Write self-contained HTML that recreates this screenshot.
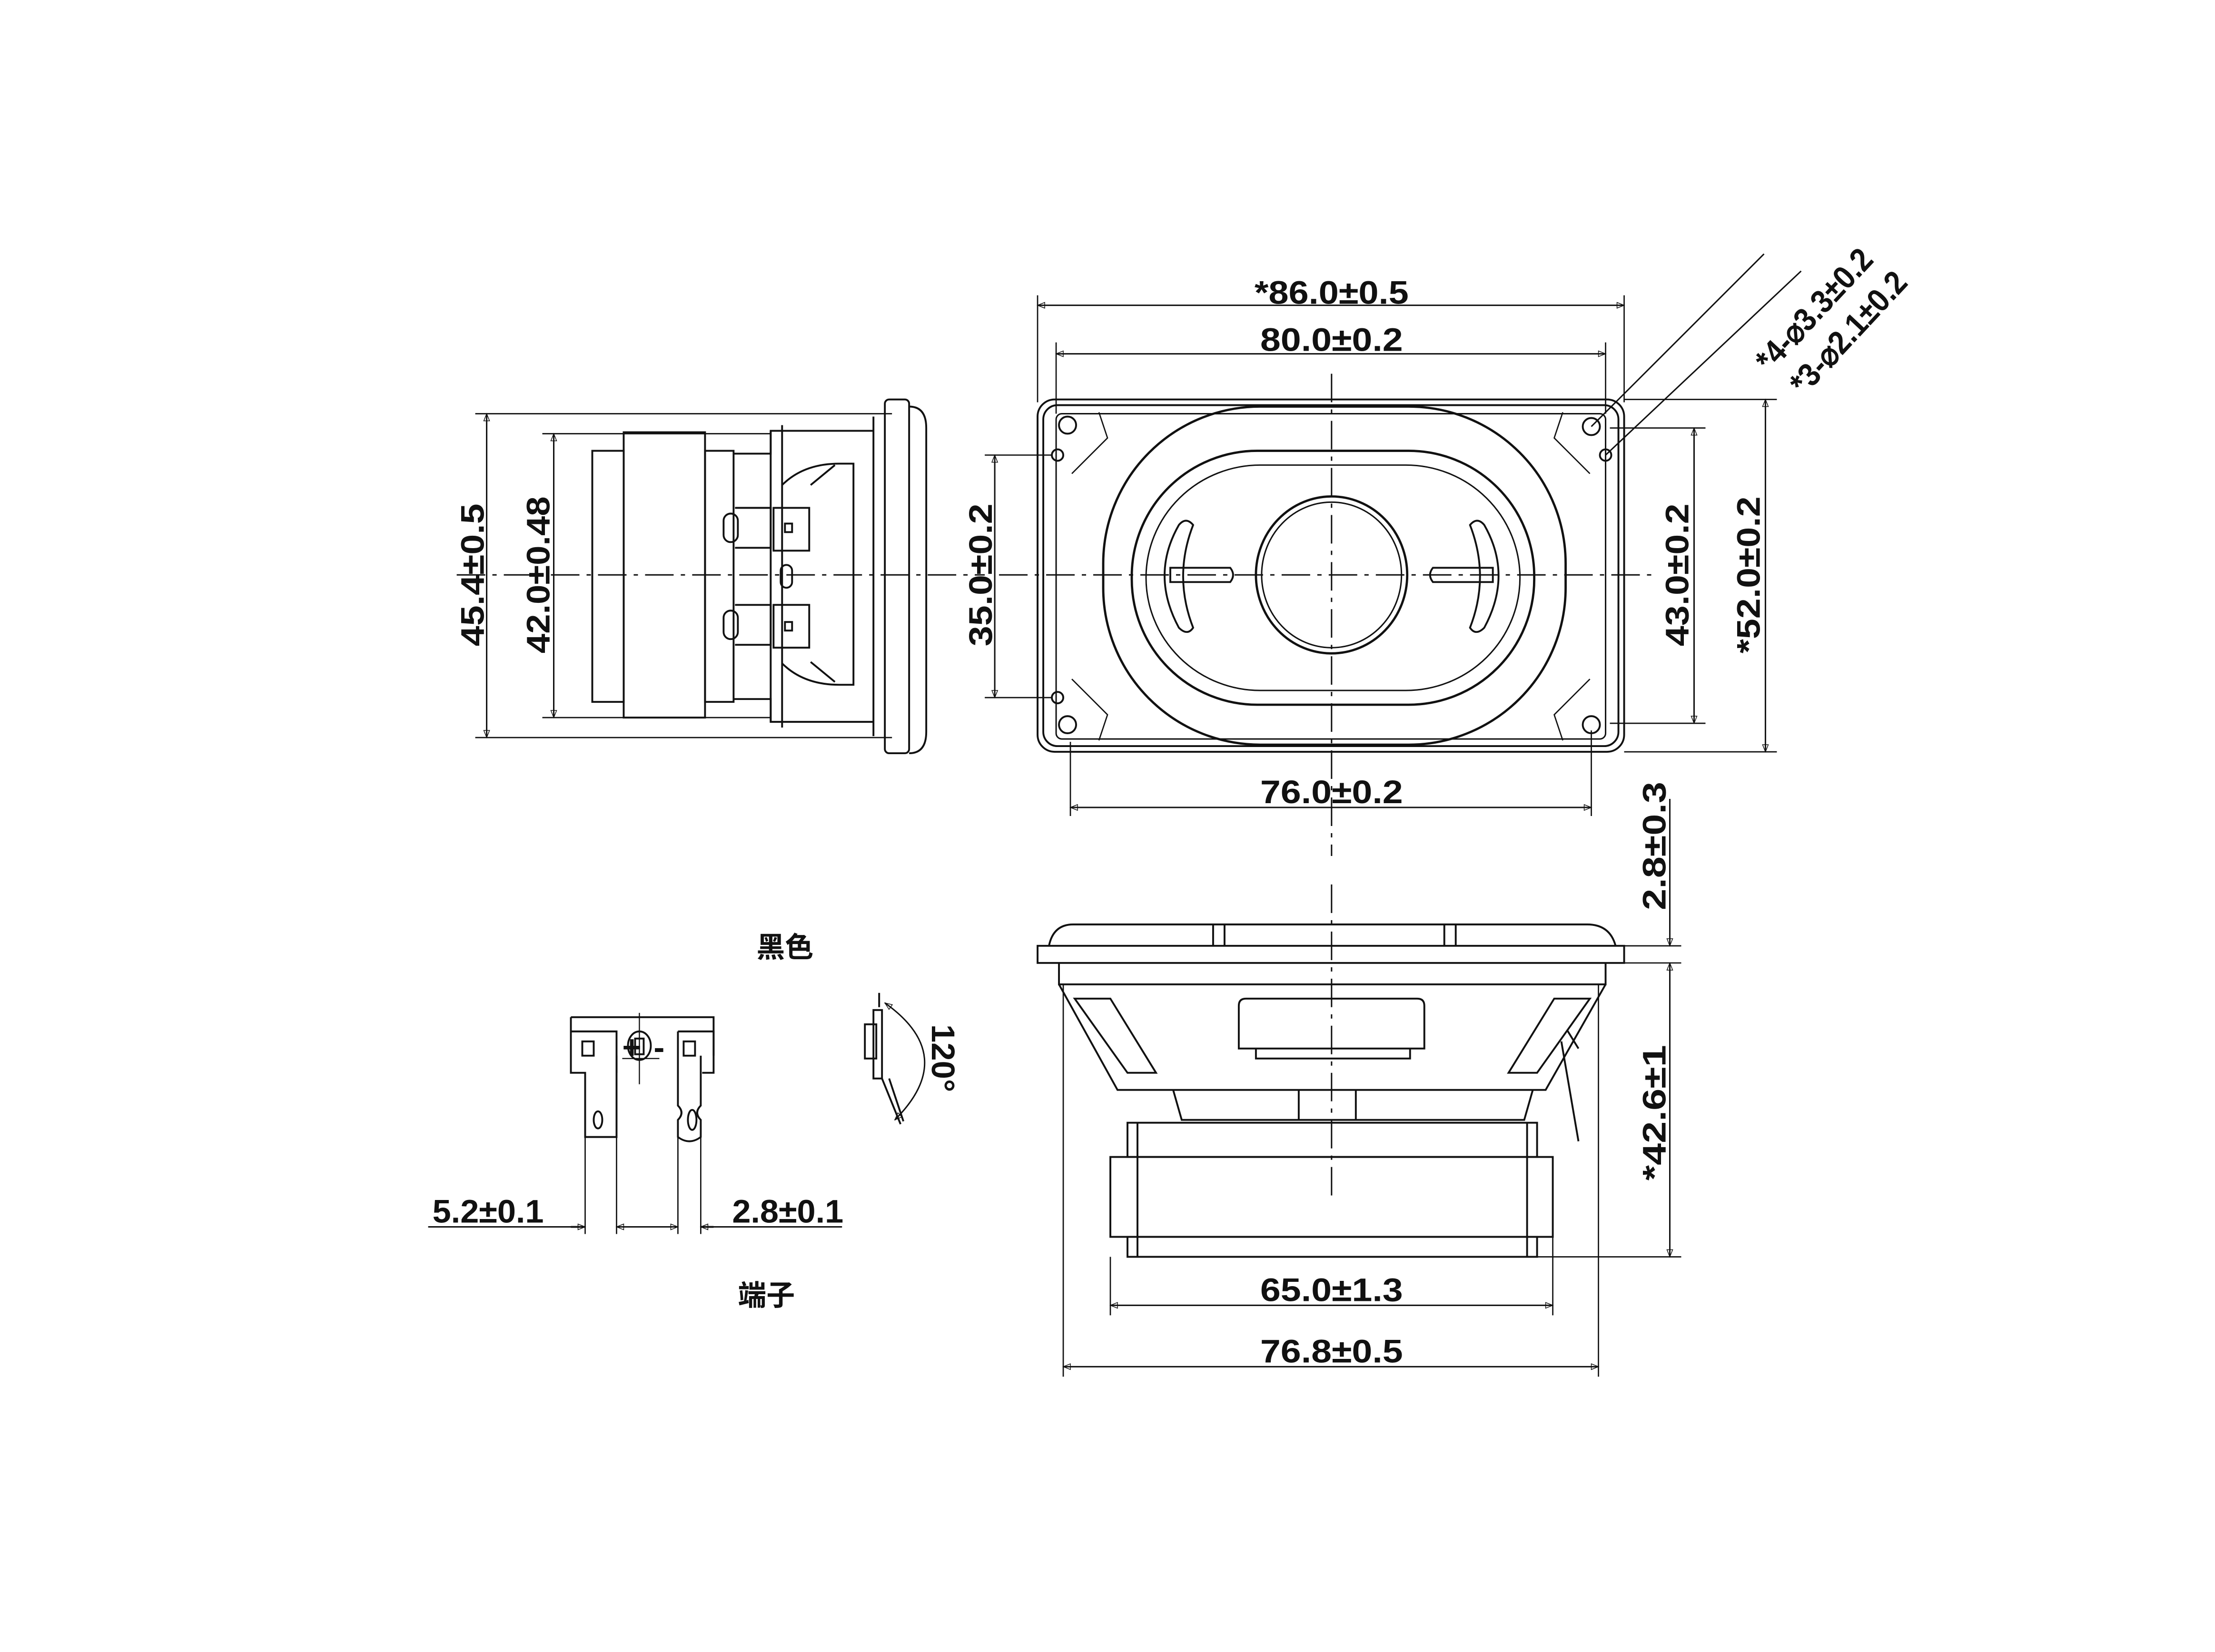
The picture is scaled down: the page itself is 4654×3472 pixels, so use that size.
<!DOCTYPE html>
<html><head><meta charset="utf-8"><style>
html,body{margin:0;padding:0;background:#fff;}
svg{display:block;}
text{font-family:"Liberation Sans Narrow","Liberation Sans","Noto Sans CJK SC",sans-serif;font-weight:bold;font-size:23px;fill:#111;}
.cjk{font-family:"Noto Sans CJK SC","WenQuanYi Zen Hei",sans-serif;font-size:20px;}
</style></head><body>
<svg width="4654" height="3472" viewBox="0 0 1552 1158" preserveAspectRatio="none" xmlns="http://www.w3.org/2000/svg">
<defs>
<marker id="a" viewBox="0 0 10 10" refX="10" refY="5" markerWidth="9" markerHeight="5" orient="auto-start-reverse" markerUnits="userSpaceOnUse"><path d="M0,1 L10,5 L0,9 z" fill="none" stroke="#111" stroke-width="1"/></marker>
</defs>
<rect width="1552" height="1158" fill="#fff"/>
<g fill="none" stroke="#111" stroke-width="1.3">
<rect x="727" y="280" width="411" height="247" rx="12"/>
<rect x="731" y="284" width="403" height="239" rx="10"/>
<rect x="740" y="290" width="385" height="228" rx="4" stroke-width="1"/>
<rect x="773" y="285" width="324" height="237" rx="110" stroke-width="1.6"/>
<rect x="793" y="316" width="282" height="178" rx="88" stroke-width="1.6"/>
<rect x="803" y="326" width="262" height="158" rx="80" stroke-width="1"/>
<ellipse cx="933" cy="403" rx="53" ry="55" stroke-width="1.6"/>
<ellipse cx="933" cy="403" rx="49" ry="51" stroke-width="1"/>
<path d="M826,368 q-20,35 0,72 q6,6 10,0 q-14,-36 0,-72 q-5,-6 -10,0z"/>
<path d="M820,398 h42 q4,5 0,10 h-42z"/>
<path d="M1040,368 q20,35 0,72 q-6,6 -10,0 q14,-36 0,-72 q5,-6 10,0z"/>
<path d="M1046,398 h-42 q-4,5 0,10 h42z"/>
<circle cx="748" cy="298" r="6"/><circle cx="1115" cy="299" r="6"/>
<circle cx="741" cy="319" r="4"/><circle cx="1125" cy="319" r="4"/>
<circle cx="741" cy="489" r="4"/><circle cx="748" cy="508" r="6"/><circle cx="1115" cy="508" r="6"/>
<path d="M770,289 l6,18 l-25,25 M1095,289 l-6,18 l25,25 M770,519 l6,-18 l-25,-25 M1095,519 l-6,-18 l25,-25" stroke-width="0.9"/>
<path d="M933,262 V600 M933,620 V840" stroke-dasharray="20,5,3,5" stroke-width="1"/>
<path d="M700,403 H1160" stroke-dasharray="20,5,3,5" stroke-width="1"/>
<path d="M727,207 V282 M1138,207 V282 M740,240 V290 M1125,240 V290" stroke-width="0.9"/>
<line x1="727" y1="214" x2="1138" y2="214" marker-start="url(#a)" marker-end="url(#a)" stroke-width="1"/>
<line x1="740" y1="248" x2="1125" y2="248" marker-start="url(#a)" marker-end="url(#a)" stroke-width="1"/>
<path d="M750,520 V572 M1115,512 V572" stroke-width="0.9"/>
<line x1="750" y1="566" x2="1115" y2="566" marker-start="url(#a)" marker-end="url(#a)" stroke-width="1"/>
<path d="M1128,300 H1195 M1128,507 H1195 M1138,280 H1245 M1138,527 H1245" stroke-width="0.9"/>
<line x1="1187" y1="300" x2="1187" y2="507" marker-start="url(#a)" marker-end="url(#a)" stroke-width="1"/>
<line x1="1237" y1="280" x2="1237" y2="527" marker-start="url(#a)" marker-end="url(#a)" stroke-width="1"/>
<path d="M690,319 H737 M690,489 H737" stroke-width="0.9"/>
<line x1="697" y1="319" x2="697" y2="489" marker-start="url(#a)" marker-end="url(#a)" stroke-width="1"/>
<path d="M1115,299 L1236,178 M1125,319 L1262,190" stroke-width="1"/>
<path d="M333,290 H625 M333,517 H625 M380,304 H540 M380,503 H540" stroke-width="0.9"/>
<line x1="341" y1="290" x2="341" y2="517" marker-start="url(#a)" marker-end="url(#a)" stroke-width="1"/>
<line x1="388" y1="304" x2="388" y2="503" marker-start="url(#a)" marker-end="url(#a)" stroke-width="1"/>
<rect x="415" y="316" width="22" height="176"/>
<rect x="437" y="303" width="57" height="200"/>
<rect x="494" y="316" width="20" height="176"/>
<path d="M514,318 H540 V302 H612 M514,490 H540 V506 H612"/>
<rect x="620" y="280" width="17" height="248" rx="3"/>
<path d="M637,285 q12,0 12,15 V513 q0,15 -12,15"/>
<path d="M540,302 V506 M548,298 V510 M612,292 V516"/>
<path d="M548,340 q15,-15 40,-15 H598 V480 H588 q-25,0 -40,-15"/>
<path d="M568,340 L585,326 M568,464 L585,478"/>
<rect x="507" y="360" width="10" height="20" rx="5"/>
<rect x="507" y="428" width="10" height="20" rx="5"/>
<path d="M515,356 H540 V384 H515 M515,424 H540 V452 H515"/>
<rect x="542" y="356" width="25" height="30"/><rect x="542" y="424" width="25" height="30"/>
<rect x="550" y="367" width="5" height="6"/><rect x="550" y="436" width="5" height="6"/>
<rect x="547" y="396" width="8" height="16" rx="4"/>
<path d="M320,403 H690" stroke-dasharray="20,5,3,5" stroke-width="1"/>
<path d="M727,663 H1138 V675 H727z"/>
<path d="M735,663 Q738,648 752,648 H1112 Q1128,648 1132,663"/>
<path d="M850,648 V663 M858,648 V663 M1012,648 V663 M1020,648 V663"/>
<path d="M742,675 V690 H1125 V675"/>
<path d="M742,690 L783,764 H1083 L1125,690"/>
<path d="M753,700 L790,752 H810 L778,700z M1114,700 L1077,752 H1057 L1089,700z"/>
<path d="M868,705 q0,-5 5,-5 H993 q5,0 5,5 V735 H868z M880,735 V742 H988 V735"/>
<path d="M822,764 L828,785 H1068 L1074,764"/>
<path d="M910,764 V785 M950,764 V785"/>
<path d="M1094,730 L1100,765 L1106,800 M1098,722 L1106,735"/>
<rect x="790" y="787" width="287" height="24"/>
<rect x="778" y="811" width="310" height="56"/>
<rect x="790" y="867" width="287" height="14"/>
<path d="M797,787 V881 M1070,787 V881"/>
<path d="M1138,663 H1178 M1138,675 H1178 M1077,881 H1178" stroke-width="0.9"/>
<line x1="1170" y1="560" x2="1170" y2="663" marker-end="url(#a)" stroke-width="1"/>
<line x1="1170" y1="675" x2="1170" y2="881" marker-start="url(#a)" marker-end="url(#a)" stroke-width="1"/>
<path d="M778,881 V922 M1088,867 V922 M745,690 V965 M1120,690 V965" stroke-width="0.9"/>
<line x1="778" y1="915" x2="1088" y2="915" marker-start="url(#a)" marker-end="url(#a)" stroke-width="1"/>
<line x1="745" y1="958" x2="1120" y2="958" marker-start="url(#a)" marker-end="url(#a)" stroke-width="1"/>
<path d="M400,713 H500 V740"/>
<path d="M400,713 V752 H410 V797 H432 V740"/>
<path d="M400,723 H432 V752"/>
<path d="M475,723 H500 V752 H492"/>
<path d="M475,723 V775 q5,5 0,10 V797 q8,6 16,0 V785 q-5,-5 0,-10 V740"/>
<rect x="408" y="730" width="8" height="10"/><rect x="479" y="730" width="8" height="10"/>
<ellipse cx="448" cy="733" rx="8" ry="10"/>
<rect x="445" y="728" width="6" height="11"/>
<path d="M448,710 V760" stroke-width="0.8"/>
<path d="M436,742 H462" stroke-width="0.8"/>
<ellipse cx="419" cy="785" rx="3" ry="6"/><ellipse cx="485" cy="785" rx="3" ry="7"/>
<path d="M410,797 V865 M432,797 V865 M475,797 V865 M491,797 V865" stroke-width="0.9"/>
<path d="M300,860 H410 M491,860 H590" stroke-width="1"/>
<path d="M400,860 L410,860" marker-end="url(#a)"/>
<line x1="432" y1="860" x2="475" y2="860" marker-start="url(#a)" marker-end="url(#a)" stroke-width="1"/>
<path d="M500,860 L491,860" marker-end="url(#a)"/>
<rect x="606" y="718" width="8" height="24"/>
<rect x="612" y="708" width="6" height="48"/>
<path d="M616,706 V696 M618,756 L631,788"/>
<path d="M623,756 L633,786"/>
<path d="M620,703 Q672,740 627,785" marker-start="url(#a)" marker-end="url(#a)" stroke-width="1"/>
</g>
<text x="933" y="213" text-anchor="middle" textLength="108" lengthAdjust="spacingAndGlyphs">*86.0±0.5</text>
<text x="933" y="246" text-anchor="middle" textLength="100" lengthAdjust="spacingAndGlyphs">80.0±0.2</text>
<text x="933" y="563" text-anchor="middle" textLength="100" lengthAdjust="spacingAndGlyphs">76.0±0.2</text>
<text transform="translate(1240,262) rotate(-47)" textLength="108" lengthAdjust="spacingAndGlyphs">*4-⌀3.3±0.2</text>
<text transform="translate(1264,278) rotate(-47)" textLength="108" lengthAdjust="spacingAndGlyphs">*3-⌀2.1±0.2</text>
<text transform="translate(1183,403) rotate(-90)" text-anchor="middle" textLength="100" lengthAdjust="spacingAndGlyphs">43.0±0.2</text>
<text transform="translate(1233,403) rotate(-90)" text-anchor="middle" textLength="110" lengthAdjust="spacingAndGlyphs">*52.0±0.2</text>
<text transform="translate(695,403) rotate(-90)" text-anchor="middle" textLength="100" lengthAdjust="spacingAndGlyphs">35.0±0.2</text>
<text transform="translate(339,403) rotate(-90)" text-anchor="middle" textLength="100" lengthAdjust="spacingAndGlyphs">45.4±0.5</text>
<text transform="translate(385,403) rotate(-90)" text-anchor="middle" textLength="110" lengthAdjust="spacingAndGlyphs">42.0±0.48</text>
<text transform="translate(1167,593) rotate(-90)" text-anchor="middle" textLength="90" lengthAdjust="spacingAndGlyphs">2.8±0.3</text>
<text transform="translate(1167,780) rotate(-90)" text-anchor="middle" textLength="95" lengthAdjust="spacingAndGlyphs">*42.6±1</text>
<text x="933" y="912" text-anchor="middle" textLength="100" lengthAdjust="spacingAndGlyphs">65.0±1.3</text>
<text x="933" y="955" text-anchor="middle" textLength="100" lengthAdjust="spacingAndGlyphs">76.8±0.5</text>
<text x="342" y="857" text-anchor="middle" textLength="78" lengthAdjust="spacingAndGlyphs">5.2±0.1</text>
<text x="552" y="857" text-anchor="middle" textLength="78" lengthAdjust="spacingAndGlyphs">2.8±0.1</text>
<text transform="translate(653,718) rotate(90)" font-size="20">120°</text>
<text x="550" y="671" text-anchor="middle" class="cjk">黑色</text>
<text x="537" y="915" text-anchor="middle" class="cjk">端子</text>
<text x="436" y="742" font-size="9">+</text><text x="458" y="742" font-size="9">-</text>
</svg>
</body></html>
